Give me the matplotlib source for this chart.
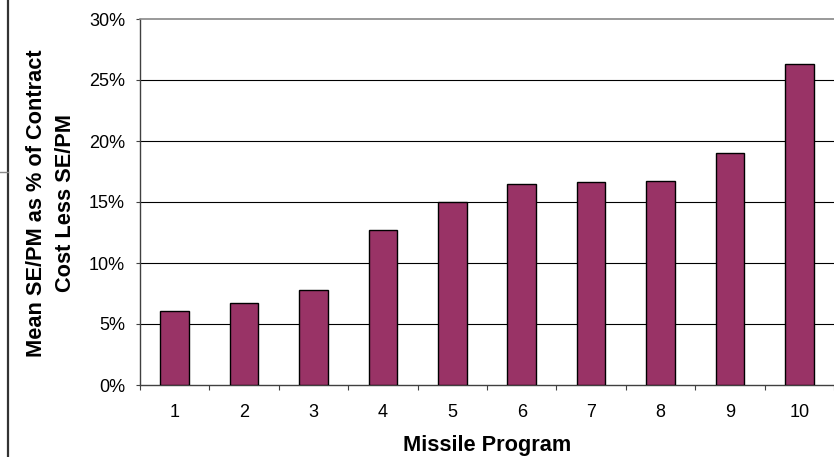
import matplotlib
matplotlib.use("Agg")
import matplotlib.pyplot as plt
from matplotlib.lines import Line2D
from matplotlib.ticker import FuncFormatter, FixedLocator

programs = ["1", "2", "3", "4", "5", "6", "7", "8", "9", "10"]
values = [6.1, 6.7, 7.8, 12.7, 15.0, 16.5, 16.6, 16.7, 19.0, 26.3]  # percent
y_ticks = [0, 5, 10, 15, 20, 25, 30]
y_label = "Mean SE/PM as % of Contract\nCost Less SE/PM"
x_label = "Missile Program"

plt.rcParams['font.family'] = ['Liberation Sans', 'DejaVu Sans']

W, H = 834, 457
fig = plt.figure(figsize=(W / 100, H / 100), dpi=100)
ax = fig.add_axes([140 / W, (H - 385) / H, 694 / W, 366 / H])

xs = list(range(1, len(values) + 1))
ax.bar(xs, values, width=0.41, color="#993366", edgecolor="black", linewidth=1.0, zorder=3)

ax.set_xlim(0.5, len(values) + 0.5)
ax.set_ylim(0, 30)

# gridlines
for t in y_ticks[1:-1]:
    ax.axhline(t, color="black", linewidth=0.8, zorder=1)

ax.set_yticks(y_ticks)
ax.yaxis.set_major_formatter(FuncFormatter(lambda v, p: f"{int(v)}%"))
ax.tick_params(axis="y", direction="out", length=3, width=0.8, color="#404040",
               labelsize=13, pad=7.8)

ax.set_xticks(xs)
ax.set_xticklabels(programs)
ax.tick_params(axis="x", which="major", length=0, labelsize=13, pad=13.5)
ax.xaxis.set_minor_locator(FixedLocator([x + 0.5 for x in range(0, len(values) + 1)]))
ax.tick_params(axis="x", which="minor", direction="out", length=3.5, width=0.8, color="#404040")

for s in ["left", "bottom"]:
    ax.spines[s].set_color("#404040")
    ax.spines[s].set_linewidth(1.0)
ax.spines["top"].set_color("#888888")
ax.spines["top"].set_linewidth(1.2)
ax.spines["right"].set_visible(False)

fig.text(51 / W, 1 - 203 / H, y_label, rotation=90, ha="center", va="center",
         fontsize=15.7, fontweight="bold", linespacing=1.45, multialignment="center")
fig.text(487 / W, 1 - 446 / H, x_label, ha="center", va="center",
         fontsize=15.7, fontweight="bold")

# frame artifacts at the left edge
fig.add_artist(Line2D([8 / W, 8 / W], [0, 1], transform=fig.transFigure,
                      color="#333333", linewidth=1.6))
fig.add_artist(Line2D([0, 8 / W], [1 - 172 / H, 1 - 172 / H], transform=fig.transFigure,
                      color="#888888", linewidth=1.0))

fig.savefig("out.png", dpi=100)
